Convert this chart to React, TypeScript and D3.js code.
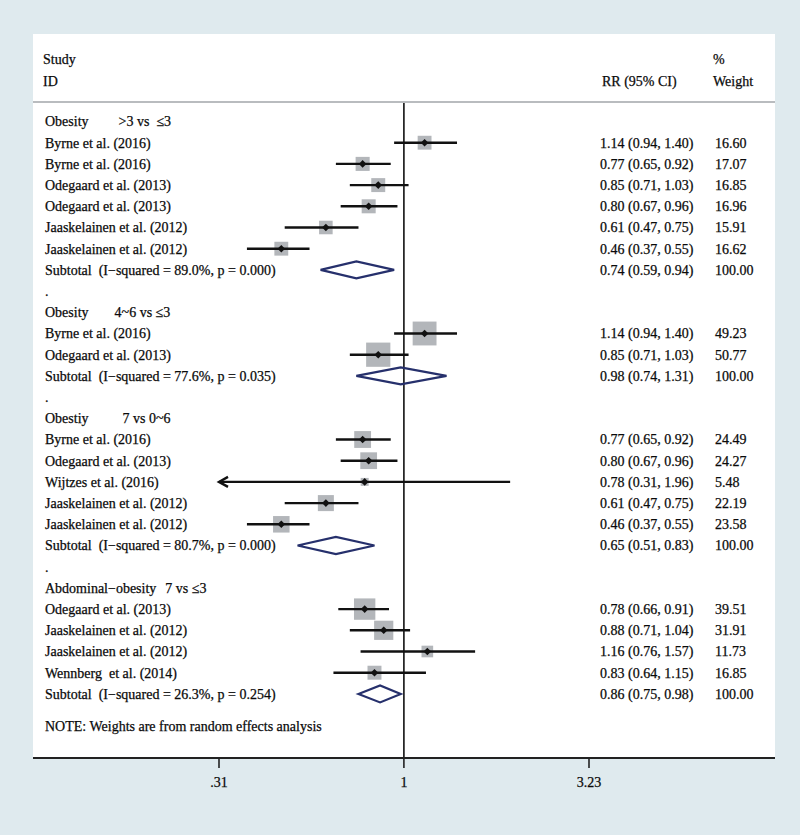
import React from "react";
import * as d3 from "d3";

// ---------- data ----------
const groupNames = ["Obesity", "Obesity", "Obestiy", "Abdominal−obesity"];
const groupComparisons = [">3 vs  ≤3", "4~6 vs ≤3", "7 vs 0~6", "7 vs ≤3"];

const studyNames = [
  "Byrne et al. (2016)",
  "Byrne et al. (2016)",
  "Odegaard et al. (2013)",
  "Odegaard et al. (2013)",
  "Jaaskelainen et al. (2012)",
  "Jaaskelainen et al. (2012)",
  "Byrne et al. (2016)",
  "Odegaard et al. (2013)",
  "Byrne et al. (2016)",
  "Odegaard et al. (2013)",
  "Wijtzes et al. (2016)",
  "Jaaskelainen et al. (2012)",
  "Jaaskelainen et al. (2012)",
  "Odegaard et al. (2013)",
  "Jaaskelainen et al. (2012)",
  "Jaaskelainen et al. (2012)",
  "Wennberg  et al. (2014)",
];
const studyGroup = [0, 0, 0, 0, 0, 0, 1, 1, 2, 2, 2, 2, 2, 3, 3, 3, 3];
const studyRR = [1.14, 0.77, 0.85, 0.8, 0.61, 0.46, 1.14, 0.85, 0.77, 0.8, 0.78, 0.61, 0.46, 0.78, 0.88, 1.16, 0.83];
const studyLo = [0.94, 0.65, 0.71, 0.67, 0.47, 0.37, 0.94, 0.71, 0.65, 0.67, 0.31, 0.47, 0.37, 0.66, 0.71, 0.76, 0.64];
const studyHi = [1.4, 0.92, 1.03, 0.96, 0.75, 0.55, 1.4, 1.03, 0.92, 0.96, 1.96, 0.75, 0.55, 0.91, 1.04, 1.57, 1.15];
const studyWeight = [16.6, 17.07, 16.85, 16.96, 15.91, 16.62, 49.23, 50.77, 24.49, 24.27, 5.48, 22.19, 23.58, 39.51, 31.91, 11.73, 16.85];

const subI2 = ["89.0%", "77.6%", "80.7%", "26.3%"];
const subP = ["0.000", "0.035", "0.000", "0.254"];
const subRR = [0.74, 0.98, 0.65, 0.86];
const subLo = [0.59, 0.74, 0.51, 0.75];
const subHi = [0.94, 1.31, 0.83, 0.98];

const tickValues = [0.31, 1, 3.23];
const tickLabels = [".31", "1", "3.23"];

const noteText = "NOTE: Weights are from random effects analysis";

// ---------- layout ----------
const W = 800;
const H = 835;
const panel = { x0: 33, x1: 775, y0: 34, y1: 758 };
const rowY0 = 121.5;
const rowH = 21.2;
const FONT = "'Liberation Serif', 'Times New Roman', serif";
const fmt = (v: number) => v.toFixed(2);
const ciText = (r: number, l: number, h: number) => `${fmt(r)} (${fmt(l)}, ${fmt(h)})`;

type Row =
  | { kind: "group"; g: number }
  | { kind: "study"; i: number }
  | { kind: "sub"; g: number }
  | { kind: "dot" };

function buildRows(): Row[] {
  const rows: Row[] = [];
  groupNames.forEach((_, g) => {
    if (g > 0) rows.push({ kind: "dot" });
    rows.push({ kind: "group", g });
    studyGroup.forEach((sg, i) => {
      if (sg === g) rows.push({ kind: "study", i });
    });
    rows.push({ kind: "sub", g });
  });
  return rows;
}

export default function App() {
  const x = d3.scaleLog().domain([0.31, 3.23]).range([219, 589]);
  const y = (i: number) => rowY0 + i * rowH;
  const boxSide = d3.scaleSqrt().domain([0, 100]).range([0, 34]);
  const rows = buildRows();
  const textX = 45;
  const ciX = 600;
  const wX = 715;
  const gap = [30, 26, 34, 9];
  const pm = 3.8;
  const pointPath = `M${-pm},0 L0,${-pm} L${pm},0 L0,${pm} Z`;
  const txt = { fill: "#0a0a0a", stroke: "#0a0a0a", strokeWidth: 0.25 };

  return (
    <svg
      width={W}
      height={H}
      style={{ position: "absolute", left: 0, top: 0, display: "block" }}
      fontFamily={FONT}
      fontSize={14}
    >
      <rect x={0} y={0} width={W} height={H} fill="#dfeaee" />
      <rect x={panel.x0} y={panel.y0} width={panel.x1 - panel.x0} height={panel.y1 - panel.y0} fill="#ffffff" />

      {/* header */}
      <g {...txt}>
        <text x={43} y={59} dy="0.35em">Study</text>
        <text x={43} y={81} dy="0.35em">ID</text>
        <text x={602} y={81} dy="0.35em">RR (95% CI)</text>
        <text x={713} y={59} dy="0.35em">%</text>
        <text x={713} y={81} dy="0.35em">Weight</text>
      </g>
      <line x1={panel.x0} x2={panel.x1} y1={102} y2={102} stroke="#b9bcbf" strokeWidth={2} />

      {/* reference line at 1 */}
      <line x1={x(1)} x2={x(1)} y1={103} y2={panel.y1} stroke="#111" strokeWidth={1.6} />

      {rows.map((r, k) => {
        const yy = y(k);
        if (r.kind === "dot") {
          return (
            <text key={k} x={textX} y={yy} dy="0.35em" {...txt}>.</text>
          );
        }
        if (r.kind === "group") {
          return (
            <text key={k} x={textX} y={yy} dy="0.35em" {...txt} style={{ whiteSpace: "pre" }}>
              {groupNames[r.g]}
              <tspan dx={gap[r.g]}>{groupComparisons[r.g]}</tspan>
            </text>
          );
        }
        if (r.kind === "study") {
          const i = r.i;
          const s = boxSide(studyWeight[i]);
          const lo = studyLo[i];
          const clipped = lo <= x.domain()[0];
          const xl = x(Math.max(lo, x.domain()[0]));
          const xh = x(studyHi[i]);
          const xc = x(studyRR[i]);
          return (
            <g key={k}>
              <text x={textX} y={yy} dy="0.35em" {...txt} style={{ whiteSpace: "pre" }}>{studyNames[i]}</text>
              <rect x={xc - s / 2} y={yy - s / 2} width={s} height={s} fill="#b3b6ba" />
              <line x1={xl} x2={xh} y1={yy} y2={yy} stroke="#111" strokeWidth={2.4} />
              {clipped && (
                <path
                  d={`M${xl + 9},${yy - 5} L${xl},${yy} L${xl + 9},${yy + 5}`}
                  fill="none"
                  stroke="#111"
                  strokeWidth={2.4}
                />
              )}
              <path d={pointPath} transform={`translate(${xc},${yy})`} fill="#111" />
              <text x={ciX} y={yy} dy="0.35em" {...txt}>{ciText(studyRR[i], lo, studyHi[i])}</text>
              <text x={wX} y={yy} dy="0.35em" {...txt}>{fmt(studyWeight[i])}</text>
            </g>
          );
        }
        const g = r.g;
        const xl = x(subLo[g]);
        const xh = x(subHi[g]);
        const xc = x(subRR[g]);
        const hh = 8.5;
        return (
          <g key={k}>
            <text x={textX} y={yy} dy="0.35em" {...txt} style={{ whiteSpace: "pre" }}>
              {`Subtotal  (I−squared = ${subI2[g]}, p = ${subP[g]})`}
            </text>
            <path
              d={`M${xl},${yy} L${xc},${yy - hh} L${xh},${yy} L${xc},${yy + hh} Z`}
              fill="none"
              stroke="#26306c"
              strokeWidth={2.2}
            />
            <text x={ciX} y={yy} dy="0.35em" {...txt}>{ciText(subRR[g], subLo[g], subHi[g])}</text>
            <text x={wX} y={yy} dy="0.35em" {...txt}>100.00</text>
          </g>
        );
      })}

      <text x={textX} y={y(rows.length) + rowH * 0.5} dy="0.35em" {...txt}>{noteText}</text>

      {/* axis */}
      <line x1={panel.x0} x2={panel.x1} y1={panel.y1} y2={panel.y1} stroke="#222" strokeWidth={2.2} />
      {tickValues.map((t, i) => (
        <g key={i}>
          <line x1={x(t)} x2={x(t)} y1={panel.y1} y2={panel.y1 + 10} stroke="#222" strokeWidth={1.6} />
          <text x={x(t)} y={782} dy="0.35em" textAnchor="middle" {...txt}>{tickLabels[i]}</text>
        </g>
      ))}
    </svg>
  );
}
